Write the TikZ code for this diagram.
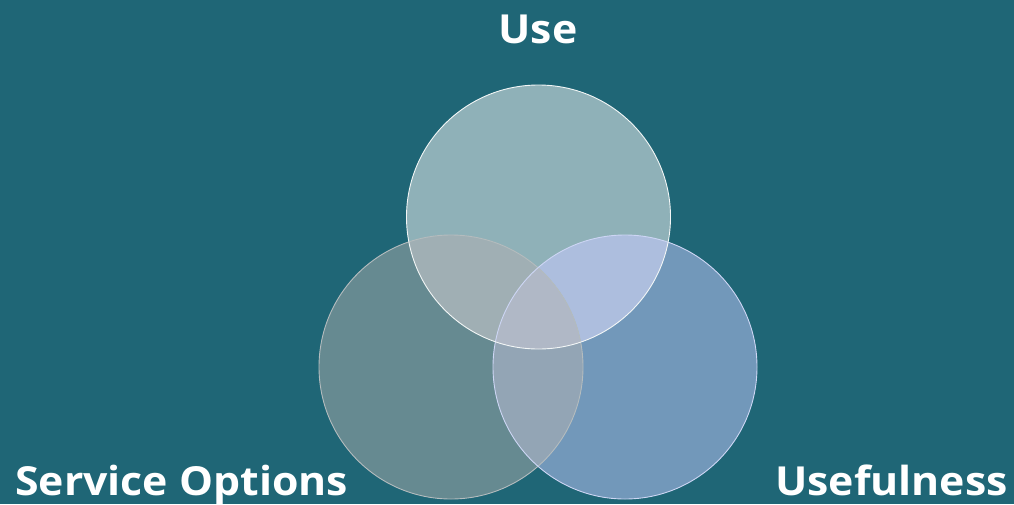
\documentclass[tikz,border=0pt]{standalone}
\usepackage{fontspec}
\setmainfont{Open Sans}
\newcommand{\widen}[1]{\scalebox{1.07}[1]{#1}}
\begin{document}
\begin{tikzpicture}[x=1pt,y=-1pt,
  lab/.style={text=white,font=\fontsize{40}{40}\selectfont\bfseries,inner sep=0pt},
  ring/.style={circle,minimum size=264pt,inner sep=0pt,line width=0.9pt}]
\definecolor{bg}{HTML}{1F6676}
\definecolor{cU}{HTML}{8FB1B8}
\definecolor{cS}{HTML}{668A91}
\definecolor{cF}{HTML}{7298BA}
\definecolor{cUF}{HTML}{ADBEDE}
\definecolor{cUS}{HTML}{A0AFB4}
\definecolor{cSF}{HTML}{93A5B5}
\definecolor{cAll}{HTML}{B0B8C6}
\definecolor{eU}{HTML}{F2F6F6}
\definecolor{eS}{HTML}{B4BCBE}
\definecolor{eF}{HTML}{CDD6F4}
\useasboundingbox (0,0) rectangle (1014,504);
\fill[bg] (0,0) rectangle (1014,504);
% centres of the three sets
\coordinate (pU) at (538.5,217);
\coordinate (pS) at (451,367);
\coordinate (pF) at (625,367);
\def\rad{132}
% single regions
\fill[cU] (pU) circle[radius=\rad];
\fill[cS] (pS) circle[radius=\rad];
\fill[cF] (pF) circle[radius=\rad];
% pairwise overlaps
\begin{scope}
  \clip (pU) circle[radius=\rad];
  \fill[cUF] (pF) circle[radius=\rad];
  \fill[cUS] (pS) circle[radius=\rad];
\end{scope}
\begin{scope}
  \clip (pS) circle[radius=\rad];
  \fill[cSF] (pF) circle[radius=\rad];
\end{scope}
% triple overlap
\begin{scope}
  \clip (pU) circle[radius=\rad];
  \clip (pS) circle[radius=\rad];
  \fill[cAll] (pF) circle[radius=\rad];
\end{scope}
% outlines
\node[ring,draw=eS] (cirS) at (pS) {};
\node[ring,draw=eF] (cirF) at (pF) {};
\node[ring,draw=eU] (cirU) at (pU) {};
% labels
\node[lab,anchor=base] (tU) at (538,43) {\widen{Use}};
\node[lab,anchor=base west] (tS) at (15,495) {\widen{Service Options}};
\node[lab,anchor=base east] (tF) at (1008,495) {\widen{Usefulness}};
\end{tikzpicture}
\end{document}
